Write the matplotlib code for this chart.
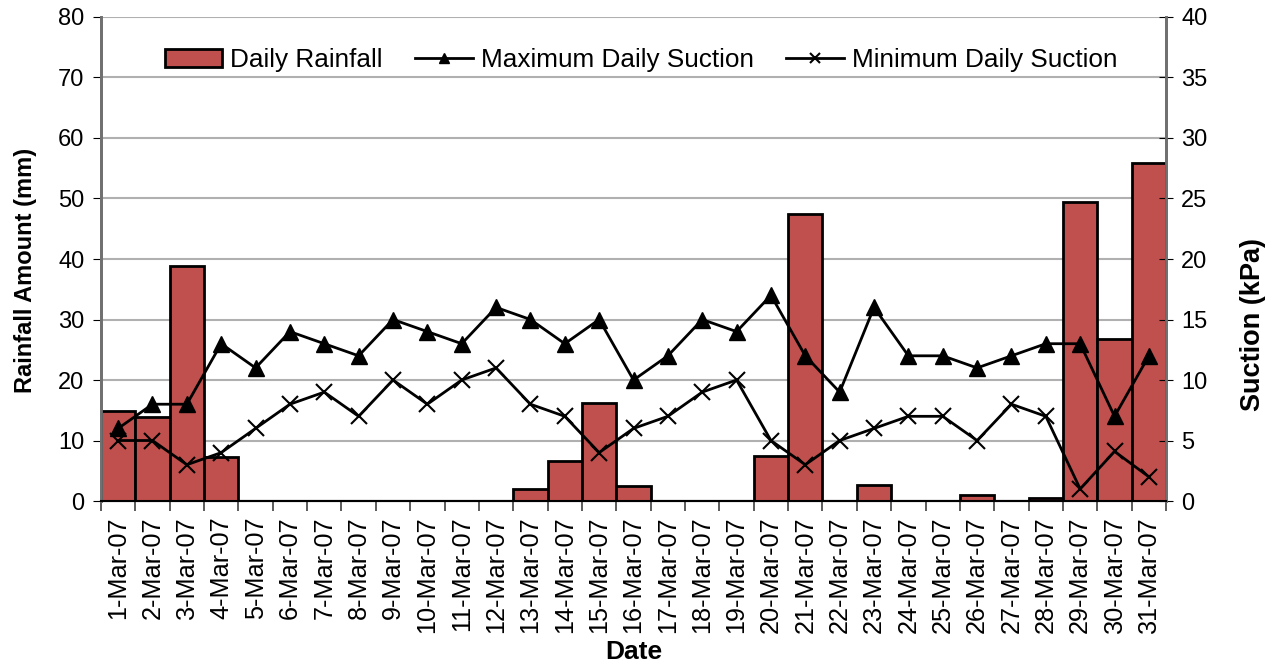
import matplotlib
matplotlib.use("Agg")
import matplotlib.pyplot as plt
import numpy as np

plt.rcParams['font.family'] = ['Liberation Sans', 'DejaVu Sans']

# data
dates = [f"{d}-Mar-07" for d in range(1, 32)]
rainfall = [14.8, 13.9, 38.9, 7.2, 0, 0, 0, 0, 0, 0, 0, 0, 2.0, 6.6, 16.2, 2.5,
            0, 0, 0, 7.4, 47.4, 0, 2.6, 0, 0, 1.0, 0, 0.5, 49.4, 26.8, 55.8]
max_suction = [6, 8, 8, 13, 11, 14, 13, 12, 15, 14, 13, 16, 15, 13, 15, 10,
               12, 15, 14, 17, 12, 9, 16, 12, 12, 11, 12, 13, 13, 7, 12]
min_suction = [5, 5, 3, 4, 6, 8, 9, 7, 10, 8, 10, 11, 8, 7, 4, 6,
               7, 9, 10, 5, 3, 5, 6, 7, 7, 5, 8, 7, 1, 4.1, 2]

x = np.arange(len(dates))

fig = plt.figure(figsize=(12.73, 6.63), dpi=100)
ax = fig.add_axes([0.0793, 0.2443, 0.8367, 0.7301])
ax2 = ax.twinx()

bars = ax.bar(x, rainfall, width=1.0, color='#C0504D', edgecolor='black',
              linewidth=2, label='Daily Rainfall', zorder=3)
l1, = ax2.plot(x, max_suction, color='black', lw=2, marker='^', ms=11,
               label='Maximum Daily Suction')
l2, = ax2.plot(x, min_suction, color='black', lw=2, marker='x', ms=11,
               mew=1.5, label='Minimum Daily Suction')

ax.set_xlim(-0.5, len(dates) - 0.5)
ax.set_ylim(0, 80)
ax2.set_ylim(0, 40)
ax.set_yticks(np.arange(0, 81, 10))
ax2.set_yticks(np.arange(0, 41, 5))
ax.yaxis.grid(True, color='#b0b0b0', lw=1.5, zorder=0)
ax.set_axisbelow(True)

ax.set_xticks(x)
ax.set_xticklabels(dates, rotation=90, fontsize=18.2)
ax.tick_params(axis='x', length=0, pad=11)
ax.set_xticks(np.arange(-0.5, len(dates)), minor=True)
ax.tick_params(axis='x', which='minor', length=7, width=1.2, color='#404040')
ax.tick_params(axis='y', labelsize=17, length=6, color='black', pad=6)
ax2.tick_params(axis='y', labelsize=17, length=10, direction='inout', pad=6)

for a in (ax, ax2):
    a.spines['top'].set_visible(False)
    a.spines['left'].set_color('#707070')
    a.spines['right'].set_color('#707070')
    a.spines['left'].set_linewidth(2)
    a.spines['right'].set_linewidth(2)
    a.spines['bottom'].set_linewidth(1.5)

ax.set_xlabel('Date', fontsize=19, fontweight='bold')
ax.xaxis.set_label_coords(0.5, -0.287)
ax.set_ylabel('Rainfall Amount (mm)', fontsize=17, fontweight='bold')
ax.yaxis.set_label_coords(-0.060, 0.477)
ax2.set_ylabel('Suction (kPa)', fontsize=19.5, fontweight='bold')
ax2.yaxis.set_label_coords(1.0695, 0.364)

leg = ax2.legend([bars, l1, l2], [bars.get_label(), l1.get_label(), l2.get_label()],
                 loc='center', bbox_to_anchor=(0.507, 0.911), ncol=3, frameon=False,
                 fontsize=18.8, handlelength=2.2, handletextpad=0.3, columnspacing=1.25,
                 markerscale=0.7)

fig.savefig('out.png', dpi=100)
